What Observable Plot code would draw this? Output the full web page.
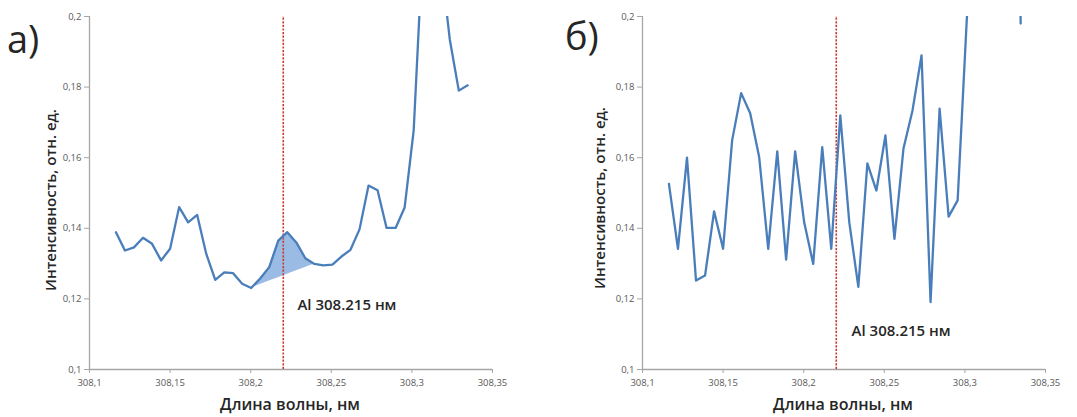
<!DOCTYPE html>
<html>
<head>
<meta charset="utf-8">
<script src="https://cdn.jsdelivr.net/npm/d3@7"></script>
<script src="https://cdn.jsdelivr.net/npm/@observablehq/plot@0.6"></script>
<style>
  html, body { margin: 0; padding: 0; background: #fff; }
  #root { position: relative; width: 1077px; height: 417px; overflow: hidden; font-family: "Open Sans", sans-serif; }
  .panel { position: absolute; top: 0; }
  .letter { position: absolute; font-size: 38px; color: #262626; line-height: 1; }
  .ytitle { position: absolute; transform: translate(-50%, -50%) rotate(-90deg); white-space: nowrap; font-size: 15px; font-weight: 600; color: #262626; }
  .xtitle { position: absolute; transform: translate(-50%, -50%); white-space: nowrap; font-size: 16px; font-weight: 600; color: #262626; }
</style>
</head>
<body>
<div id="root">
  <div id="pa" class="panel" style="left:0px"></div>
  <div id="pb" class="panel" style="left:540px"></div>
  <div class="letter" style="left:7px; top:19px">а)</div>
  <div class="letter" style="left:565px; top:16px">б)</div>
  <div class="ytitle" style="left:50px; top:200px">Интенсивность, отн. ед.</div>
  <div class="ytitle" style="left:599px; top:198px">Интенсивность, отн. ед.</div>
  <div class="xtitle" style="left:290px; top:404px">Длина волны, нм</div>
  <div class="xtitle" style="left:843px; top:404px">Длина волны, нм</div>
</div>
<script>
// Wavelengths (nm)
const wavelengths = [
  308.1164, 308.1220, 308.1276, 308.1332, 308.1388, 308.1444, 308.1500, 308.1556, 308.1612, 308.1668,
  308.1724, 308.1780, 308.1836, 308.1891, 308.1947, 308.2003, 308.2059, 308.2115, 308.2171, 308.2227,
  308.2283, 308.2339, 308.2395, 308.2451, 308.2507, 308.2563, 308.2619, 308.2675, 308.2731, 308.2787,
  308.2843, 308.2899, 308.2955, 308.3011, 308.3067, 308.3123, 308.3179, 308.3235, 308.3291, 308.3346
];
// Panel а) intensity
const intensityA = [
  0.1389, 0.1337, 0.1346, 0.1373, 0.1356, 0.1309, 0.1342, 0.1460, 0.1417, 0.1438,
  0.1328, 0.1254, 0.1275, 0.1273, 0.1243, 0.1231, 0.1258, 0.1290, 0.1365, 0.1389,
  0.1360, 0.1315, 0.1299, 0.1295, 0.1297, 0.1320, 0.1339, 0.1397, 0.1521, 0.1508,
  0.1401, 0.1401, 0.1459, 0.1677, 0.2195, 0.2300, 0.2160, 0.1935, 0.1790, 0.1805
];
// Panel б) intensity
const intensityB = [
  0.1526, 0.1342, 0.1600, 0.1252, 0.1266, 0.1448, 0.1342, 0.1649, 0.1783, 0.1726,
  0.1601, 0.1342, 0.1618, 0.1311, 0.1618, 0.1417, 0.1299, 0.1630, 0.1342, 0.1720,
  0.1416, 0.1234, 0.1584, 0.1507, 0.1663, 0.1370, 0.1626, 0.1734, 0.1890, 0.1191,
  0.1739, 0.1433, 0.1479, 0.1986, 0.2400, 0.2800, 0.3000, 0.3200, 0.3500, 0.1980
];
const xTicks = [308.1, 308.15, 308.2, 308.25, 308.3, 308.35];
const yTicks = [0.1, 0.12, 0.14, 0.16, 0.18, 0.2];
const alLine = 308.2202;          // where the dashed marker is drawn in the figure
const alLabel = "Al 308.215 нм";
const labelA = {x: 308.2290, y: 0.1181};
const labelB = {x: 308.2297, y: 0.1108};
// Shaded peak in panel а): from index 15 to 22
const peakStart = 15, peakEnd = 22;

const comma = d => String(d).replace(".", ",");

function makePanel(values, opts) {
  const data = wavelengths.map((x, i) => ({x, y: values[i]}));
  const marks = [];
  if (opts.peak) {
    const x0 = wavelengths[peakStart], x1 = wavelengths[peakEnd];
    const v0 = values[peakStart], v1 = values[peakEnd];
    const area = [];
    for (let i = peakStart; i <= peakEnd; i++) {
      const x = wavelengths[i];
      area.push({x, y1: v0 + (v1 - v0) * (x - x0) / (x1 - x0), y2: values[i]});
    }
    marks.push(Plot.areaY(area, {x: "x", y1: "y1", y2: "y2", fill: "#8fb4e0", fillOpacity: 0.9}));
  }
  marks.push(
    Plot.ruleX([308.1], {stroke: "#a6a6a6", strokeWidth: 1.3}),
    Plot.ruleY([0.1], {stroke: "#a6a6a6", strokeWidth: 1.3}),
    Plot.axisX(xTicks, {tickSize: 4, tickPadding: 6, tickFormat: comma, fontSize: 9.5, fill: "#595959", stroke: "#a6a6a6", label: null}),
    Plot.axisY(yTicks, {tickSize: 5, tickPadding: 3, tickFormat: comma, fontSize: 9.5, fill: "#595959", stroke: "#a6a6a6", label: null}),
    Plot.ruleX([alLine], {y1: 0.1, y2: 0.2, stroke: "#cc3b33", strokeWidth: 1.6, strokeDasharray: "2.2,1.4"}),
    Plot.line(data, {x: "x", y: "y", stroke: "#4a7ebb", strokeWidth: 2.3, clip: true}),
    Plot.text([opts.label], {x: "x", y: "y", text: () => alLabel, textAnchor: "start", fontSize: 15, fontWeight: 600, fill: "#262626"})
  );
  return Plot.plot({
    width: opts.width, height: 417,
    marginLeft: opts.ml, marginRight: opts.mr, marginTop: 16, marginBottom: 48,
    style: {fontFamily: "Open Sans", background: "transparent", overflow: "visible"},
    x: {domain: [308.1, 308.35]},
    y: {domain: [0.1, 0.2]},
    marks
  });
}

document.getElementById("pa").append(makePanel(intensityA, {width: 540, ml: 89, mr: 48, peak: true, label: labelA}));
document.getElementById("pb").append(makePanel(intensityB, {width: 537, ml: 102, mr: 32, peak: false, label: labelB}));
</script>
</body>
</html>
